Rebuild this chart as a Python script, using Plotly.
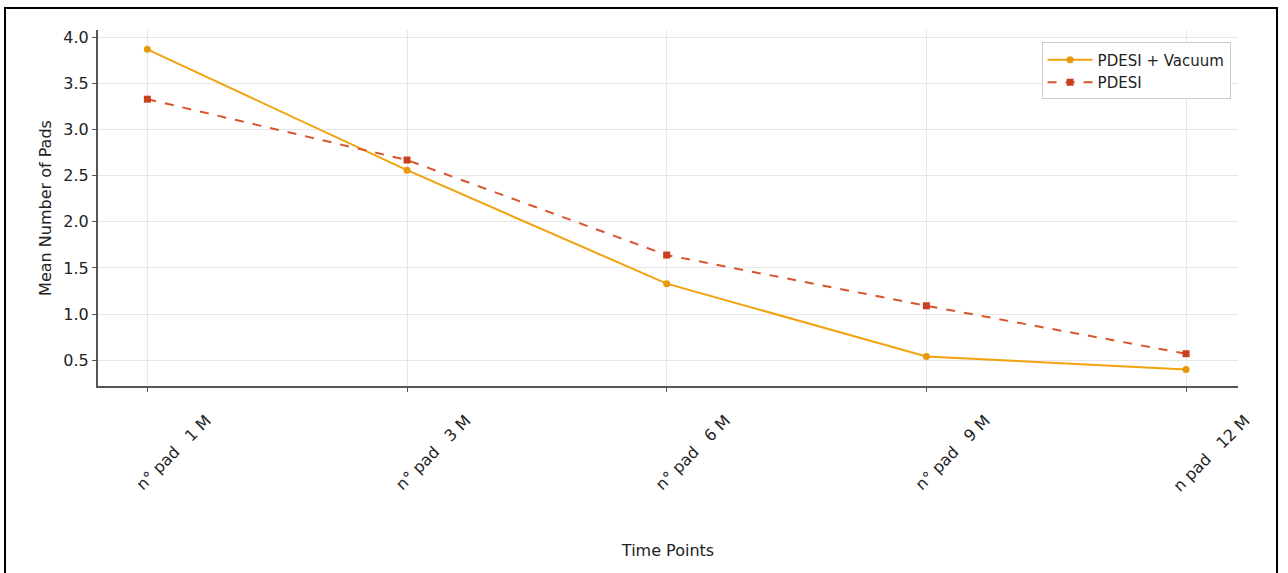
import plotly.graph_objects as go

categories = ["n° pad\u00a0\u00a0\u00a01 M", "n° pad\u00a0\u00a0\u00a03 M", "n° pad\u00a0\u00a0\u00a06 M",
              "n° pad\u00a0\u00a0\u00a09 M", "n pad\u00a0\u00a0\u00a012 M"]
pdesi_vacuum = [3.87, 2.56, 1.33, 0.54, 0.40]
pdesi = [3.33, 2.67, 1.64, 1.09, 0.57]
y_ticks = [0.5, 1.0, 1.5, 2.0, 2.5, 3.0, 3.5, 4.0]

FONT = "DejaVu Sans"
L, R, T, B = 98, 50, 30, 187
W, H = 1288, 573
pw, ph = W - L - R, H - T - B

fig = go.Figure()
fig.add_trace(go.Scatter(
    x=categories, y=pdesi_vacuum, name="PDESI + Vacuum", mode="lines+markers",
    line=dict(color="#F2A20C", width=2),
    marker=dict(symbol="circle", size=7, color="#E8980A"),
))
fig.add_trace(go.Scatter(
    x=categories, y=pdesi, name="PDESI", mode="lines+markers",
    line=dict(color="#D9552E", width=2, dash="dash"),
    marker=dict(symbol="square", size=7, color="#C8401E"),
))

def px_x(p):
    return (p - L) / pw

def px_y(p):
    return (H - B - p) / ph

fig.add_shape(type="rect", xref="paper", yref="paper",
              x0=px_x(5), x1=px_x(1277), y0=px_y(580), y1=px_y(8),
              line=dict(color="black", width=2), fillcolor="rgba(0,0,0,0)", layer="above")

fig.update_layout(
    width=W, height=H,
    margin=dict(l=L, r=R, t=T, b=B),
    paper_bgcolor="white", plot_bgcolor="white",
    font=dict(family=FONT, size=16, color="#222222"),
    showlegend=True,
    legend=dict(x=0.9935, y=0.965, xanchor="right", yanchor="top",
                bgcolor="white", bordercolor="#cccccc", borderwidth=1,
                tracegroupgap=0, itemwidth=45,
                font=dict(family=FONT, size=15, color="#222222")),
)
fig.update_xaxes(
    type="category", range=[-0.19, 4.2],
    showgrid=True, gridcolor="#e6e6e6", gridwidth=1,
    showline=True, linecolor="#555555", linewidth=2,
    ticks="outside", ticklen=4, tickcolor="#555555",
    tickangle=-45, ticklabelshift=59, ticklabelstandoff=13,
    tickfont=dict(family=FONT, size=16, color="#222222"),
    title=dict(text="Time Points", standoff=51, font=dict(family=FONT, size=16, color="#222222")),
    zeroline=False,
)
fig.update_yaxes(
    range=[0.22, 4.08], tickvals=y_ticks, tickformat=".1f",
    showgrid=True, gridcolor="#e6e6e6", gridwidth=1,
    showline=True, linecolor="#555555", linewidth=2,
    ticks="outside", ticklen=4, tickcolor="#555555",
    tickfont=dict(family=FONT, size=16, color="#222222"),
    title=dict(text="Mean Number of Pads", standoff=8, font=dict(family=FONT, size=16, color="#222222")),
    zeroline=False,
)

fig.write_html("out.html", config={"displayModeBar": False},
               post_script="document.body.style.margin='0';document.body.style.overflow='hidden';")
